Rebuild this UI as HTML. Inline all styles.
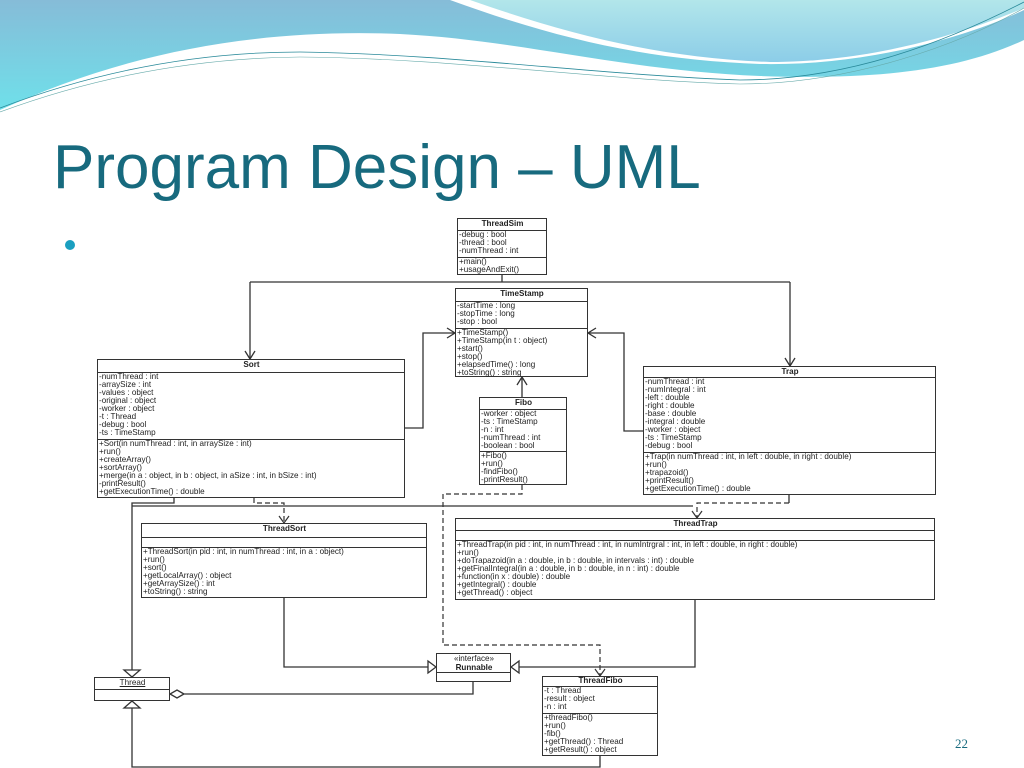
<!DOCTYPE html>
<html><head><meta charset="utf-8"><style>
body{margin:0;width:1024px;height:768px;overflow:hidden;background:#fff;position:relative;font-family:"Liberation Sans",sans-serif}
.b{position:absolute;border:1px solid #333;box-sizing:border-box;background:#fff;font-size:8.1px;line-height:8px;color:#222}
.b>div{box-sizing:border-box;border-bottom:1px solid #333;padding-left:1px;white-space:nowrap;overflow:hidden}
.b>div:last-child{border-bottom:none}
.h{text-align:center;font-weight:bold;padding-top:1px}
svg{position:absolute;left:0;top:0}
</style></head><body>
<svg width="1024" height="768">
<defs><linearGradient id="g1" x1="0" y1="0" x2="0" y2="1"><stop offset="0" stop-color="#86bcd8"/><stop offset="1" stop-color="#6fe0ea"/></linearGradient>
<linearGradient id="g2" x1="0" y1="0" x2="0" y2="1"><stop offset="0" stop-color="#b2e6ea"/><stop offset="1" stop-color="#8ccde8"/></linearGradient></defs>
<path d="M0 0H1024V40C960 70 880 80 760 76C620 70 520 40 400 34C250 28 120 55 0 110Z" fill="url(#g1)"/>
<path d="M450 0C560 40 650 60 760 64C860 66 960 40 1024 10V0Z" fill="#fff"/>
<path d="M470 0C570 35 660 58 770 62C870 62 960 35 1024 8V0Z" fill="url(#g2)"/>
<path d="M0 108C100 70 200 52 300 52C450 54 600 75 740 80C850 80 950 40 1024 2" fill="none" stroke="#2a8a9a" stroke-width="0.8"/>
<path d="M0 112C100 75 200 58 300 57C450 58 600 80 740 84C850 84 960 45 1024 8" fill="none" stroke="#6aa" stroke-width="0.6"/>
<text x="53" y="188" font-family="Liberation Sans,sans-serif" font-size="62" fill="#176a7e">Program Design – UML</text>
<circle cx="70" cy="245" r="5" fill="#1a9fc0"/>
<text x="955" y="748" font-family="Liberation Serif,serif" font-size="13" fill="#176a7e">22</text>
<g fill="none" stroke="#333" stroke-width="1.3">
<path d="M502 275V282M250 282H790M250 282V359M790 282V366"/>
<path d="M245 351L250 359L255 351M785 358L790 366L795 358"/>
<path d="M405 428H423V333H455M447 328L455 333L447 338"/>
<path d="M643 431H624V333H588M596 328L588 333L596 338"/>
<path d="M522 397V377M517 385L522 377L527 385"/>
<path d="M174 498V503H132V670M124 670L132 677L140 670Z"/>
<path d="M132 506H693"/>
<path d="M284 598V667H428M428 661L436 667L428 673Z"/>
<path d="M695 600V667H519M519 661L511 667L519 673Z"/>
<path d="M473 682V694H184M184 694L177 690L170 694L177 698Z"/>
<path d="M600 756V767H132V708M124 708L132 701L140 708Z"/>
<path d="M789 495V503"/>
</g>
<g fill="none" stroke="#333" stroke-width="1.2" stroke-dasharray="5,3">
<path d="M522 485V494H443V645H600V676"/>
<path d="M254 498V503H284V523"/>
<path d="M789 503H697V518"/>
</g>
<g fill="none" stroke="#333" stroke-width="1.2">
<path d="M595 669L600 676L605 669M279 516L284 523L289 516M692 511L697 518L702 511"/>
</g>
</svg>
<div class="b" style="left:457px;top:218px;width:90px;height:57px"><div class="h" style="height:12px">ThreadSim</div><div style="height:27px">-debug : bool<br>-thread : bool<br>-numThread : int</div><div>+main()<br>+usageAndExit()</div></div>
<div class="b" style="left:455px;top:288px;width:133px;height:89px"><div class="h" style="height:13px">TimeStamp</div><div style="height:27px">-startTime : long<br>-stopTime : long<br>-stop : bool</div><div>+TimeStamp()<br>+TimeStamp(in t : object)<br>+start()<br>+stop()<br>+elapsedTime() : long<br>+toString() : string</div></div>
<div class="b" style="left:97px;top:359px;width:308px;height:139px"><div class="h" style="height:13px">Sort</div><div style="height:67px">-numThread : int<br>-arraySize : int<br>-values : object<br>-original : object<br>-worker : object<br>-t : Thread<br>-debug : bool<br>-ts : TimeStamp</div><div>+Sort(in numThread : int, in arraySize : int)<br>+run()<br>+createArray()<br>+sortArray()<br>+merge(in a : object, in b : object, in aSize : int, in bSize : int)<br>-printResult()<br>+getExecutionTime() : double</div></div>
<div class="b" style="left:479px;top:397px;width:88px;height:88px"><div class="h" style="height:12px">Fibo</div><div style="height:42px">-worker : object<br>-ts : TimeStamp<br>-n : int<br>-numThread : int<br>-boolean : bool</div><div>+Fibo()<br>+run()<br>-findFibo()<br>-printResult()</div></div>
<div class="b" style="left:643px;top:366px;width:293px;height:129px"><div class="h" style="height:11px">Trap</div><div style="height:75px">-numThread : int<br>-numIntegral : int<br>-left : double<br>-right : double<br>-base : double<br>-integral : double<br>-worker : object<br>-ts : TimeStamp<br>-debug : bool</div><div>+Trap(in numThread : int, in left : double, in right : double)<br>+run()<br>+trapazoid()<br>+printResult()<br>+getExecutionTime() : double</div></div>
<div class="b" style="left:455px;top:518px;width:480px;height:82px"><div class="h" style="height:12px">ThreadTrap</div><div style="height:10px"></div><div>+ThreadTrap(in pid : int, in numThread : int, in numIntrgral : int, in left : double, in right : double)<br>+run()<br>+doTrapazoid(in a : double, in b : double, in intervals : int) : double<br>+getFinalIntegral(in a : double, in b : double, in n : int) : double<br>+function(in x : double) : double<br>+getIntegral() : double<br>+getThread() : object</div></div>
<div class="b" style="left:141px;top:523px;width:286px;height:75px"><div class="h" style="height:14px">ThreadSort</div><div style="height:10px"></div><div>+ThreadSort(in pid : int, in numThread : int, in a : object)<br>+run()<br>+sort()<br>+getLocalArray() : object<br>+getArraySize() : int<br>+toString() : string</div></div>
<div class="b" style="left:436px;top:653px;width:75px;height:29px"><div class="h" style="height:19px;line-height:8.5px"><span style="font-weight:normal">«interface»</span><br>Runnable</div><div></div></div>
<div class="b" style="left:94px;top:677px;width:76px;height:24px"><div class="h" style="height:12px;font-weight:normal;text-decoration:underline">Thread</div><div></div></div>
<div class="b" style="left:542px;top:676px;width:116px;height:80px"><div class="h" style="height:10px;line-height:8px;padding-top:0">ThreadFibo</div><div style="height:27px">-t : Thread<br>-result : object<br>-n : int</div><div>+threadFibo()<br>+run()<br>-fib()<br>+getThread() : Thread<br>+getResult() : object</div></div>
</body></html>
